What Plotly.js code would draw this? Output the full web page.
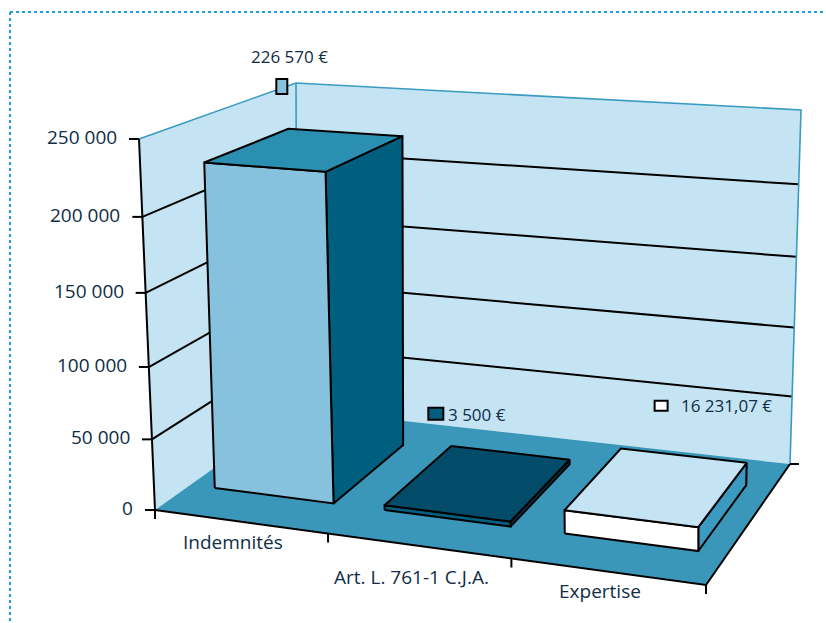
<!DOCTYPE html>
<html><head><meta charset="utf-8">
<script src="https://cdn.plot.ly/plotly-3.0.1.min.js"></script>
<style>html,body{margin:0;padding:0;background:#fff;overflow:hidden}</style>
</head><body><div id="chart" style="width:826px;height:623px"></div>
<script>
// ---------- data ----------
const categories = ["Indemnités", "Art. L. 761-1 C.J.A.", "Expertise"];
const values = [226570, 3500, 16231.07];
const valueLabels = ["226 570 €", "3 500 €", "16 231,07 €"];
const yTicks = [0, 50000, 100000, 150000, 200000, 250000];
const yTickLabels = ["0", "50 000", "100 000", "150 000", "200 000", "250 000"];
const yMax = 250000;

// ---------- styles / geometry ----------
const frontColors = ["#86c1de", "#005e7f", "#ffffff"];
const topColors   = ["#2a8fb0", "#034c69", "#c4e3f3"];
const sideColors  = ["#005e7f", "#023a50", "#3a9ac0"];
const markerSizes = [[11,15],[15,12],[13,10]];
const markerOff = [[-63,-46],[-74,-39],[-22,-50]];
const textOff   = [[-96,-76],[-64,-38],[-4,-50]];
const catDy = [20, 31, 19];
const WALL = "#c4e4f4", FLOOR = "#3a97b9", EDGE = "#3a9ac0", TXT = "#0f2d45";
const FONT = "Open Sans, Noto Sans, sans-serif";
// projected corners of the chart box (u: category, v: value, w: depth)
const C = {F0L:[155,510],F0R:[706,585],F1L:[139,139],F1R:[703,182],
           B0L:[297,409],B0R:[790,464],B1L:[296,83],B1R:[801,110]};
const AU = 1.092, AV = 1.063;
const barW = 0.235, barShift = 0.0, wFront = 0.25, wBack = 0.8;

function warp(t,a){return t/(a-(a-1)*t);}
function L(a,b,t){return [a[0]+(b[0]-a[0])*t, a[1]+(b[1]-a[1])*t];}
function P(u,v,w){
  const s=warp(u,AU), t=warp(v,AV);
  const bot=L(L(C.F0L,C.F0R,s),L(C.B0L,C.B0R,s),w);
  const top=L(L(C.F1L,C.F1R,s),L(C.B1L,C.B1R,s),w);
  return L(bot,top,t);
}
function poly(pts,fill,lineColor,lw){
  const xs=pts.map(p=>p[0]), ys=pts.map(p=>p[1]);
  xs.push(xs[0]); ys.push(ys[0]);
  return {type:"scatter",mode:"lines",x:xs,y:ys,fill:"toself",fillcolor:fill,
    line:{color:lineColor||fill,width:lw||0,shape:"linear"},hoverinfo:"skip"};
}
function path(segs,color,w){
  const xs=[],ys=[];
  segs.forEach(s=>{s.forEach(p=>{xs.push(p[0]);ys.push(p[1]);});xs.push(null);ys.push(null);});
  return {type:"scatter",mode:"lines",x:xs,y:ys,line:{color:color,width:w},hoverinfo:"skip"};
}

const traces=[];
// walls & floor
traces.push(poly([P(0,0,1),P(1,0,1),P(1,1,1),P(0,1,1)],WALL));
traces.push(poly([P(0,0,0),P(0,0,1),P(0,1,1),P(0,1,0)],WALL));
traces.push(poly([P(0,0,0),P(1,0,0),P(1,0,1),P(0,0,1)],FLOOR));
// gridlines
const grid=[];
yTicks.forEach(t=>{const v=t/yMax; if(v>0&&v<1) grid.push([P(0,v,0),P(0,v,1),P(1,v,1)]);});
traces.push(path(grid,"#000",2));
// blue edges
traces.push(path([[P(0,1,0),P(0,1,1),P(1,1,1),P(1,0,1)],[P(0,0,1),P(0,1,1)]],EDGE,1.6));
// axes
const ax=[[P(0,0,0),P(0,1,0)],[P(0,0,0),P(1,0,0),P(1,0,1)]];
yTicks.forEach(t=>{const p=P(0,t/yMax,0); ax.push([[p[0]-10,p[1]],[p[0],p[1]]]);});
for(let k=0;k<=categories.length;k++){const p=P(k/categories.length,0,0); ax.push([[p[0],p[1]],[p[0],p[1]+9]]);}
{const p=P(1,0,1); ax.push([[p[0],p[1]],[p[0]+9,p[1]]]);}
traces.push(path(ax,"#000",2));
// bars
const n=categories.length;
values.forEach((val,i)=>{
  const uc=(i+0.5)/n+barShift, u0=uc-barW/2, u1=uc+barW/2, v=val/yMax;
  traces.push(poly([P(u1,0,wFront),P(u1,0,wBack),P(u1,v,wBack),P(u1,v,wFront)],sideColors[i],"#000",2));
  traces.push(poly([P(u0,0,wFront),P(u1,0,wFront),P(u1,v,wFront),P(u0,v,wFront)],frontColors[i],"#000",2));
  traces.push(poly([P(u0,v,wFront),P(u1,v,wFront),P(u1,v,wBack),P(u0,v,wBack)],topColors[i],"#000",2));
});

const annotations=[], shapes=[];
// frame
shapes.push({type:"line",xref:"x",yref:"y",x0:10,y0:12,x1:826,y1:12,line:{color:"#1e9fd8",width:2,dash:"dot"}});
shapes.push({type:"line",xref:"x",yref:"y",x0:10,y0:12,x1:10,y1:623,line:{color:"#1e9fd8",width:2,dash:"dot"}});
// tick labels
yTicks.forEach((t,k)=>{const p=P(0,t/yMax,0);
  annotations.push({x:p[0]-20,y:p[1]-2,text:yTickLabels[k],xanchor:"right",yanchor:"middle",showarrow:false,
    font:{family:FONT,size:19,color:TXT}});});
// category labels
categories.forEach((c,i)=>{const p=P((i+0.5)/n,0,0);
  annotations.push({x:p[0]-7,y:p[1]+catDy[i],text:c,xanchor:"center",yanchor:"middle",showarrow:false,
    font:{family:FONT,size:19,color:TXT}});});
// value labels with keys
values.forEach((val,i)=>{
  const uc=(i+0.5)/n+barShift, a=P(uc,val/yMax,wBack);
  const mx=a[0]+markerOff[i][0], my=a[1]+markerOff[i][1], sw=markerSizes[i][0]/2, sh=markerSizes[i][1]/2;
  shapes.push({type:"rect",xref:"x",yref:"y",x0:mx-sw,x1:mx+sw,y0:my-sh,y1:my+sh,fillcolor:frontColors[i],line:{color:"#000",width:2}});
  annotations.push({x:a[0]+textOff[i][0],y:a[1]+textOff[i][1],text:valueLabels[i],xanchor:"left",yanchor:"middle",showarrow:false,
    font:{family:FONT,size:17,color:TXT}});
});

const layout={width:826,height:623,margin:{l:0,r:0,t:0,b:0},paper_bgcolor:"#fff",plot_bgcolor:"#fff",
  showlegend:false,hovermode:false,
  xaxis:{range:[0,826],visible:false,fixedrange:true},
  yaxis:{range:[623,0],visible:false,fixedrange:true},
  shapes:shapes,annotations:annotations};
Plotly.newPlot("chart",traces,layout,{staticPlot:true,displayModeBar:false});
</script></body></html>
